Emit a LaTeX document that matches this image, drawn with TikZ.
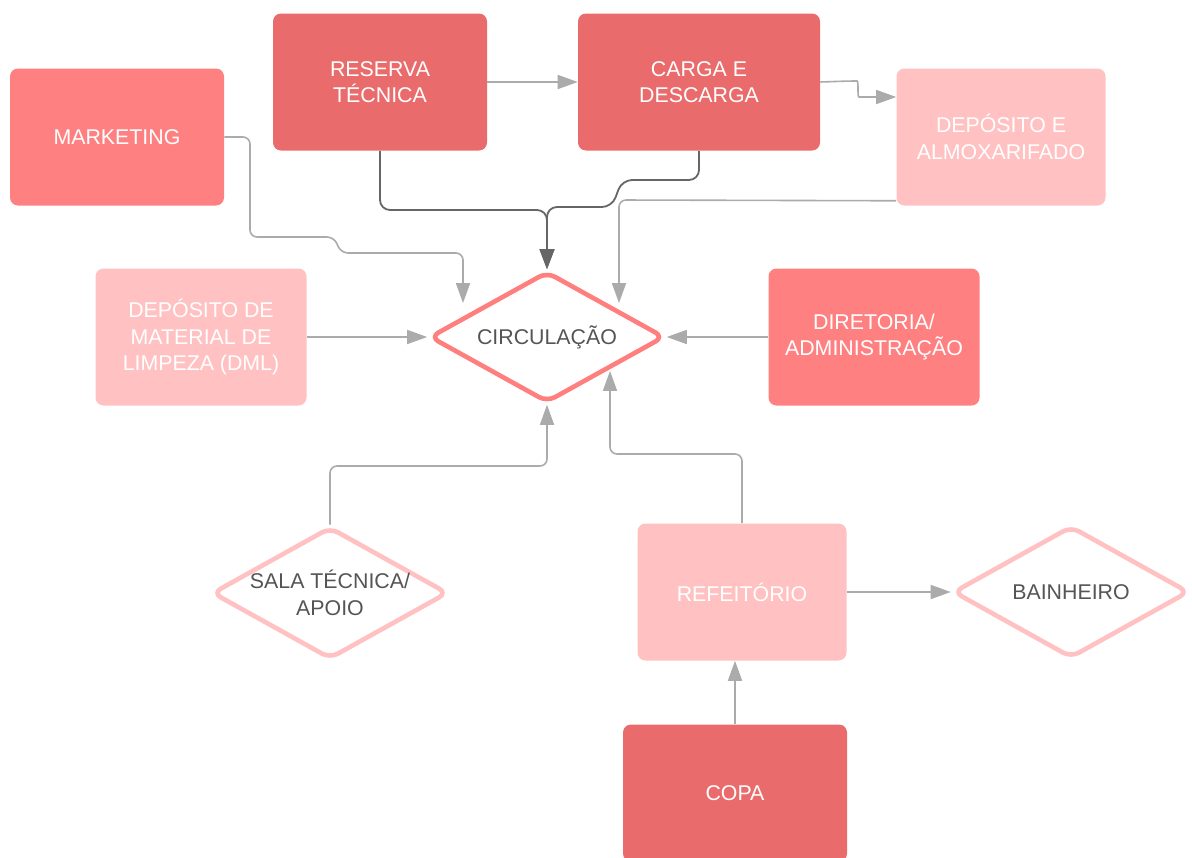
\documentclass[tikz,border=0pt]{standalone}
\usepackage{fontspec}
\setmainfont{Liberation Sans}
\usetikzlibrary{shapes.geometric,arrows.meta}

% one drawing unit = one pixel of the layout grid
\newdimen\pxu \pxu=0.75pt
\newcommand\lblfont{\fontsize{16pt}{20pt}\selectfont}

\definecolor{boxdark}{HTML}{EA6B6B}
\definecolor{boxmid}{HTML}{FF8080}
\definecolor{boxlight}{HTML}{FFC1C1}
\definecolor{circline}{HTML}{FF7F7F}
\definecolor{linegray}{HTML}{ABABAB}
\definecolor{linedark}{HTML}{666666}
\definecolor{txtgray}{HTML}{555555}

\tikzset{
  box/.style={rectangle, rounded corners=8\pxu, inner sep=0pt,
    minimum width=212\pxu, minimum height=137\pxu, align=center,
    text=white, font=\lblfont},
  darkbox/.style={box, fill=boxdark},
  midbox/.style={box, fill=boxmid},
  lightbox/.style={box, fill=boxlight},
  diam/.style={diamond, draw=#1, line width=4.6\pxu, fill=white,
    rounded corners=9\pxu, minimum width=236\pxu, minimum height=132\pxu,
    inner sep=0pt},
  dlabel/.style={align=center, text=txtgray, font=\lblfont},
  conn/.style={draw=linegray, line width=1.6\pxu, rounded corners=7\pxu,
    -{Triangle[length=15pt, width=10.5pt]}},
  dconn/.style={draw=linedark, line width=1.8\pxu, rounded corners=10\pxu,
    -{Triangle[length=15pt, width=11pt]}},
}

\begin{document}
\begin{tikzpicture}[x=0.75pt, y=-0.75pt]
\useasboundingbox (0,0) rectangle (1192,857);

% rooms
\node[midbox, minimum width=214\pxu] (mkt) at (117,137) {MARKETING};
\node[darkbox, minimum width=214\pxu] (res) at (380,82) {RESERVA\\TÉCNICA};
\node[darkbox, minimum width=242\pxu] (car) at (699,82) {CARGA E\\DESCARGA};
\node[lightbox, minimum width=209\pxu] (dep) at (1001,137) {DEPÓSITO E\\ALMOXARIFADO};
\node[lightbox, minimum width=211\pxu] (dml) at (201,337) {DEPÓSITO DE\\MATERIAL DE\\LIMPEZA (DML)};
\node[diam=circline, minimum width=235\pxu, minimum height=131\pxu,
  label={[dlabel]center:CIRCULAÇÃO}] (circ) at (547,337) {};
\node[midbox, minimum width=211\pxu] (dir) at (874,337) {DIRETORIA/\\ADMINISTRAÇÃO};
\node[diam=boxlight, label={[dlabel]center:SALA TÉCNICA/\\APOIO}] (sala) at (330,593) {};
\node[lightbox, minimum width=209\pxu] (ref) at (742,592) {REFEITÓRIO};
\node[diam=boxlight, label={[dlabel]center:BAINHEIRO}] (bain) at (1071,592) {};
\node[darkbox, minimum width=224\pxu] (copa) at (735,793) {COPA};

% flows along the top row
\draw[conn] (res.east) -- (car.west);
\draw[conn] (car.east) -- (850,81) to[out=0,in=180] (866,97) -- (dep.west |- 0,97);

% loading flows merging into the circulation
\draw[dconn] (res.south) -- (380,210) -- (547,210) -- (circ.north);
\draw[dconn] (car.south) -- (699,180) -- (622,180) -- (612,207) -- (547,207) -- (circ.north);

% side entries
\draw[conn] (mkt.east) -- (250,137) -- (250,237) -- (334,237) -- (341,253)
  -- (463,253) -- (circ.north west -| 463,0);
\draw[conn] (dep.south west) ++(0,-5) -- (619,200) -- (circ.north east -| 619,0);
\draw[conn] (dml.east) -- (circ.west);
\draw[conn] (dir.west) -- (circ.east);

% lower entries
\draw[conn] (sala.north) -- (330,466) -- (547,466) -- (circ.south);
\draw[conn] (ref.north) -- (742,454) -- (610,454) -- (circ.south east -| 610,0);
\draw[conn] (ref.east) -- (bain.west);
\draw[conn] (copa.north) -- (copa.north |- ref.south);
\end{tikzpicture}
\end{document}
